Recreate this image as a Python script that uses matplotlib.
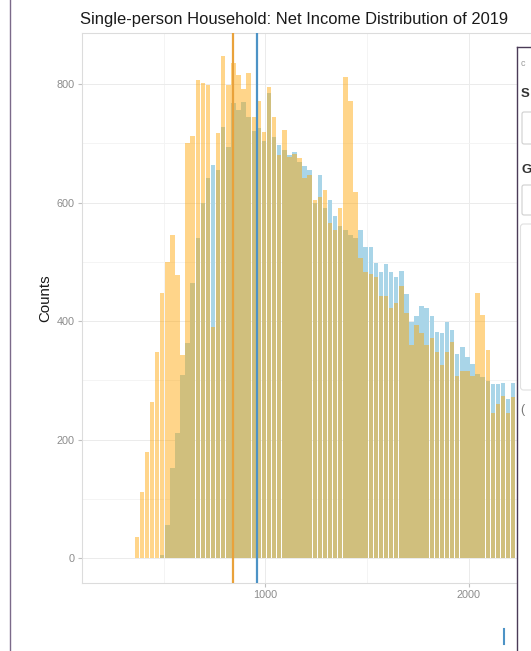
import matplotlib
matplotlib.use("Agg")
import matplotlib.pyplot as plt
from matplotlib.lines import Line2D
from matplotlib.patches import FancyBboxPatch
from matplotlib.ticker import MultipleLocator

plt.rcParams['font.family'] = ['Liberation Sans', 'DejaVu Sans']

# histogram bins: 25-wide, first bin starts at 355
bin_start = 355
bin_width = 25

counts_orange = [36, 112, 179, 264, 348, 447, 500, 545, 478, 343,
                 700, 712, 806, 802, 798, 390, 717, 848, 798, 835,
                 815, 792, 819, 745, 772, 719, 795, 745, 680, 722,
                 676, 682, 675, 641, 646, 605, 610, 621, 565, 553,
                 590, 811, 771, 618, 506, 483, 480, 475, 442, 442,
                 422, 430, 459, 414, 359, 393, 380, 359, 371, 348,
                 325, 348, 365, 308, 316, 316, 308, 448, 410, 351,
                 245, 260, 273, 245, 271]
counts_blue = [0, 0, 0, 0, 0, 5, 56, 152, 211, 309,
               363, 464, 540, 600, 641, 663, 655, 728, 694, 768,
               756, 770, 745, 720, 726, 703, 785, 711, 697, 689,
               680, 686, 668, 661, 655, 600, 646, 590, 604, 578,
               560, 553, 545, 540, 553, 525, 525, 498, 483, 497,
               483, 474, 484, 446, 399, 408, 425, 422, 408, 382,
               379, 399, 385, 345, 356, 339, 328, 310, 305, 299,
               294, 294, 296, 268, 296]

median_orange = 842
median_blue = 960

title = "Single-person Household: Net Income Distribution of 2019"

W, H = 531, 651
fig = plt.figure(figsize=(W / 100, H / 100), dpi=100)

# main panel (pixel box 81.5..531 x 33..583)
ax = fig.add_axes([81.5 / W, (H - 583) / H, (W - 81.5) / W, 550 / H])
centers = [bin_start + bin_width * (i + 0.5) for i in range(len(counts_orange))]
ax.bar(centers, counts_blue, width=bin_width * 0.88, color='#A9D5E8', linewidth=0, zorder=2)
ax.bar(centers, counts_orange, width=bin_width * 0.88, color='#FFA500', alpha=0.46,
       linewidth=0, zorder=3)
ax.axvline(median_orange, color='#E9A23B', lw=1.6, zorder=4)
ax.axvline(median_blue, color='#4D93C6', lw=1.6, zorder=4)

ax.set_xlim(96, 2305)
ax.set_ylim(-42, 886)
ax.set_xticks([1000, 2000])
ax.set_yticks([0, 200, 400, 600, 800])
ax.xaxis.set_minor_locator(MultipleLocator(500))
ax.yaxis.set_minor_locator(MultipleLocator(100))
ax.grid(True, which='major', color='#ebebeb', lw=0.7, zorder=0)
ax.grid(True, which='minor', color='#f3f3f3', lw=0.6, zorder=0)
ax.set_axisbelow(True)
for s in ax.spines.values():
    s.set_color('#dcdcdc')
    s.set_linewidth(0.8)
ax.tick_params(which='major', length=3, color='#c0c0c0', labelcolor='#8c8c8c',
               labelsize=7.8, pad=2)
ax.tick_params(which='minor', length=0)
ax.set_ylabel('Counts', fontsize=10.8, color='#1a1a1a')
ax.yaxis.set_label_coords((52 - 81.5) / 450, 0.518)

fig.text(80 / W, 1 - 24 / H, title, fontsize=11.9, color='#1a1a1a', va='baseline')

# sidebar widget overlapping the plot on the right
ov = fig.add_axes([516.5 / W, 0, (W - 516.5) / W, (H - 47) / H], zorder=5)
ov.set_xlim(516.5, W)
ov.set_ylim(H, 47)
ov.set_facecolor('white')
ov.set_xticks([])
ov.set_yticks([])
for side in ['right', 'bottom']:
    ov.spines[side].set_visible(False)
for side in ['left', 'top']:
    ov.spines[side].set_color('#4b3b57')
    ov.spines[side].set_linewidth(1.0)
ov.text(521, 64, 'c', fontsize=6.5, color='#9a9a9a', va='center')
ov.text(521, 94, 'S', fontsize=9.5, fontweight='bold', color='#333333', va='center')
ov.text(521, 170, 'G', fontsize=9.5, fontweight='bold', color='#333333', va='center')
ov.text(520, 410, '(', fontsize=9, color='#777777', va='center')
for y0, h in [(112, 32), (185, 30)]:
    ov.add_patch(FancyBboxPatch((522, y0), 20, h, boxstyle='round,pad=0,rounding_size=2',
                                fc='white', ec='#cfcfcf', lw=0.8))
ov.add_patch(FancyBboxPatch((520.5, 224), 20, 166, boxstyle='round,pad=0,rounding_size=3',
                            fc='white', ec='#e0e0e0', lw=0.8))

# page frame line on the left and small mark at the bottom
fig.add_artist(Line2D([9.5 / W, 9.5 / W], [0, 1], color='#7b6a8a', lw=1.0))
fig.add_artist(Line2D([504 / W, 504 / W], [1 - 629 / H, 1 - 644 / H], color='#4D93C6', lw=1.5))

fig.savefig('out.png', dpi=100)
